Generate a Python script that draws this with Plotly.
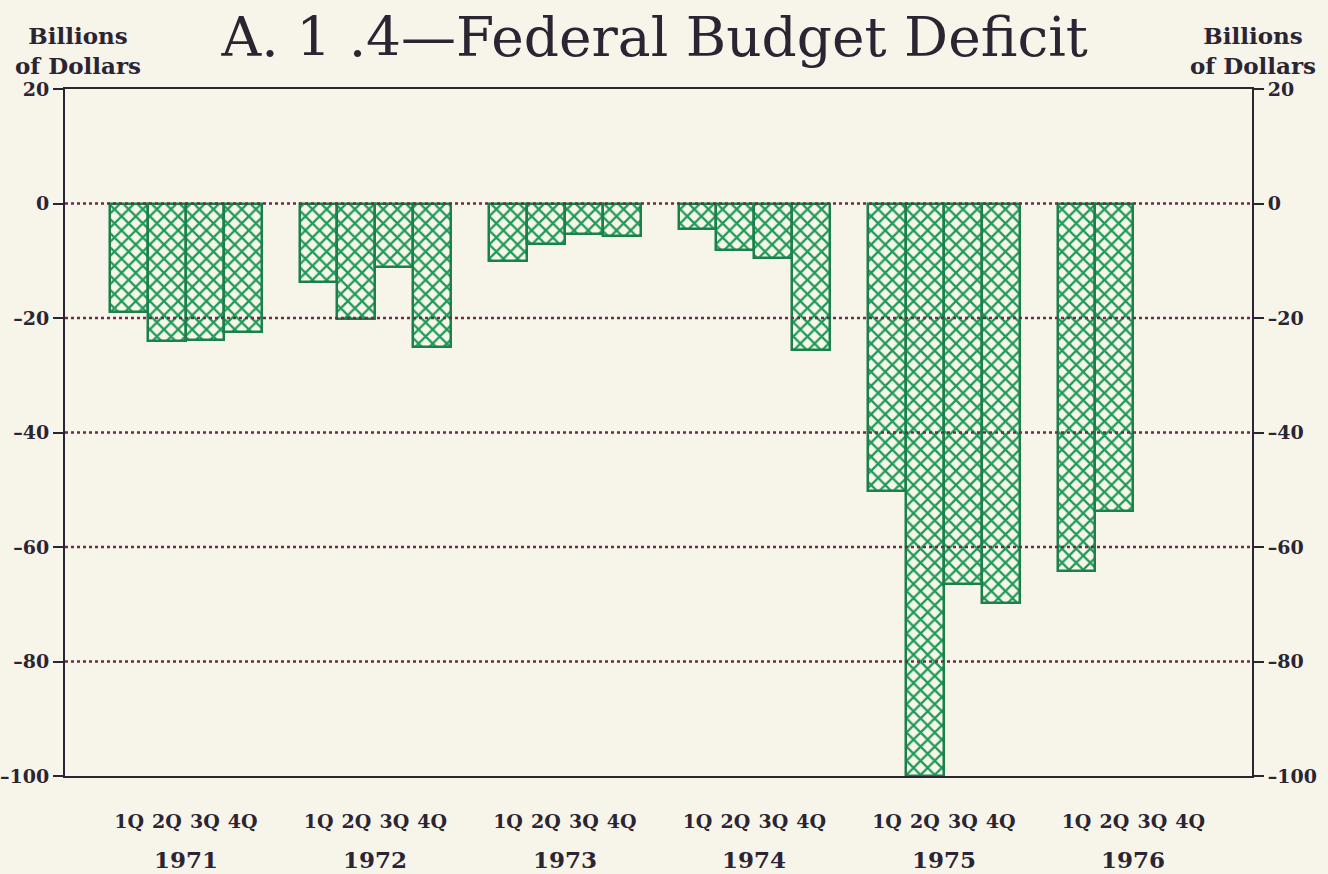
import plotly.graph_objects as go

years = ["1971", "1972", "1973", "1974", "1975", "1976"]
quarters = ["1Q", "2Q", "3Q", "4Q"]
deficit = [
    [-19.0, -24.1, -23.8, -22.4],
    [-13.7, -20.1, -11.1, -25.1],
    [-10.0, -7.0, -5.4, -5.7],
    [-4.5, -8.1, -9.5, -25.6],
    [-50.2, -100.0, -66.5, -69.8],
    [-64.2, -53.7, None, None],
]
y_ticks = [20, 0, -20, -40, -60, -80, -100]

BG = "#f7f5e9"
GREEN = "#1f9a58"
EDGE = "#1b8049"
INK = "#2b2433"
DOT = "#6b2d4a"
TICKFONT = dict(family="DejaVu Serif", size=19, color=INK)

xs, ys, qlab = [], [], []
for i, yr in enumerate(years):
    for q, qn in enumerate(quarters):
        xs.append(i * 5 + q)
        ys.append(deficit[i][q])
        qlab.append(qn)

fig = go.Figure()
fig.add_trace(go.Bar(
    x=xs, y=ys, width=1.0,
    marker=dict(color=BG, line=dict(color=EDGE, width=2.5),
                pattern=dict(shape="x", fgcolor=GREEN, bgcolor=BG, size=10, solidity=0.4, fillmode="replace")),
    hoverinfo="x+y", showlegend=False,
))
fig.add_trace(go.Scatter(x=[xs[0]], y=[0], yaxis="y2", mode="markers",
                         marker=dict(opacity=0), showlegend=False, hoverinfo="skip"))

for v in y_ticks[1:-1]:
    fig.add_shape(type="line", xref="paper", x0=0, x1=1, yref="y", y0=v, y1=v,
                  line=dict(color=DOT, width=2.5, dash="dot"), layer="above")

for i, yr in enumerate(years):
    fig.add_annotation(x=i * 5 + 1.5, y=-0.122, xref="x", yref="paper", text="<b>%s</b>" % yr,
                       showarrow=False, yanchor="middle", font=dict(family="DejaVu Serif", size=23, color=INK))

fig.add_annotation(x=0.011, y=1.1, xref="paper", yref="paper", xanchor="center", yanchor="top",
                   text="<b>Billions<br>of Dollars</b>", showarrow=False, align="center",
                   font=dict(family="DejaVu Serif", size=23, color=INK))
fig.add_annotation(x=1.0005, y=1.1, xref="paper", yref="paper", xanchor="center", yanchor="top",
                   text="<b>Billions<br>of Dollars</b>", showarrow=False, align="center",
                   font=dict(family="DejaVu Serif", size=23, color=INK))

axis_common = dict(automargin=False, showgrid=False, zeroline=False, showline=True,
                   linecolor=INK, linewidth=2)
yt_text = ["<b>%s</b>" % ("\u2013%d" % -v if v < 0 else str(v)) for v in y_ticks]

fig.update_layout(
    width=1328, height=874, autosize=False,
    paper_bgcolor=BG, plot_bgcolor=BG,
    margin=dict(l=65, r=76, t=89, b=98, pad=0, autoexpand=False),
    title=dict(text="A. 1 .4\u2014Federal Budget Deficit", x=0.493, xanchor="center", y=0.958, yanchor="middle",
               font=dict(family="DejaVu Serif", size=55, color=INK)),
    xaxis=dict(range=[-1.69, 29.63], tickmode="array", tickvals=xs, ticktext=["<b>%s</b>" % t for t in qlab],
               ticks="", mirror=True, tickfont=dict(family="DejaVu Serif", size=19, color=INK),
               ticklabelstandoff=27, **axis_common),
    yaxis=dict(range=[-100, 20], tickmode="array", tickvals=y_ticks, ticktext=yt_text,
               ticks="outside", ticklen=10, tickwidth=2, tickcolor=INK, tickfont=TICKFONT, **axis_common),
    yaxis2=dict(range=[-100, 20], overlaying="y", side="right", tickmode="array", tickvals=y_ticks,
                ticktext=yt_text, ticks="outside", ticklen=10, tickwidth=2, tickcolor=INK,
                tickfont=TICKFONT, **axis_common),
    bargap=0,
)

fig.write_html("out.html", config={"displayModeBar": False},
               post_script="document.body.style.margin='0';document.body.style.background='%s';" % BG)
